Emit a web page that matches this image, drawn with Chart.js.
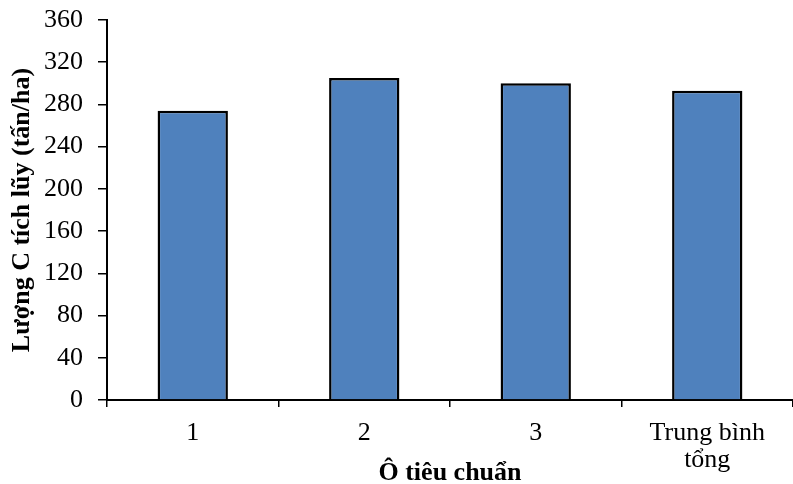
<!DOCTYPE html>
<html>
<head>
<meta charset="utf-8">
<script src="https://cdn.jsdelivr.net/npm/chart.js@4"></script>
<style>
  html, body { margin: 0; padding: 0; background: #fff; }
  #wrap { width: 793px; height: 484px; }
</style>
</head>
<body>
<div id="wrap"><canvas id="myBarChart"></canvas></div>
<script>
const categories = ["1", "2", "3", ["Trung bình", "tổng"]];
const carbonValues = [274, 305, 300, 293];
const yTicks = [0, 40, 80, 120, 160, 200, 240, 280, 320, 360];

const serif = "'Liberation Serif', 'Times New Roman', serif";

new Chart(document.getElementById("myBarChart").getContext("2d"), {
  type: "bar",
  data: {
    labels: categories,
    datasets: [{
      data: carbonValues,
      backgroundColor: "#4F81BD",
      borderColor: "#000",
      borderWidth: 2.5,
      barPercentage: 0.41,
      categoryPercentage: 1.0,
    }],
  },
  options: {
    responsive: true,
    maintainAspectRatio: false,
    animation: false,
    layout: { padding: { top: 20, right: -7, left: 0, bottom: 0 } },
    plugins: { legend: { display: false }, tooltip: { enabled: false } },
    scales: {
      x: {
        border: { color: "#000", width: 2 },
        grid: { drawOnChartArea: false, color: "#000", lineWidth: 1.5, tickLength: 7 },
        ticks: { color: "#000", font: { family: serif, size: 26, lineHeight: 1.06 }, padding: 12 },
        title: {
          display: true,
          text: "Ô tiêu chuẩn",
          color: "#000",
          font: { family: serif, size: 26, weight: "bold", lineHeight: 1 },
          padding: { top: 0, bottom: -2 },
        },
        afterFit: (s) => { s.height = 84; s.paddingLeft = 0; s.paddingRight = 0; },
      },
      y: {
        min: 0,
        max: 360,
        afterBuildTicks: (s) => { s.ticks = yTicks.map((v) => ({ value: v })); },
        border: { color: "#000", width: 2 },
        grid: { drawOnChartArea: false, color: "#000", lineWidth: 1.5, tickLength: 9 },
        ticks: { color: "#000", font: { family: serif, size: 26 }, padding: 15 },
        title: {
          display: true,
          text: "Lượng C tích lũy (tấn/ha)",
          color: "#000",
          font: { family: serif, size: 26, weight: "bold", lineHeight: 1 },
          padding: { top: 9, bottom: 0 },
        },
        afterFit: (s) => { s.width = 107; s.paddingTop = 0; s.paddingBottom = 0; },
      },
    },
  },
});
</script>
</body>
</html>
